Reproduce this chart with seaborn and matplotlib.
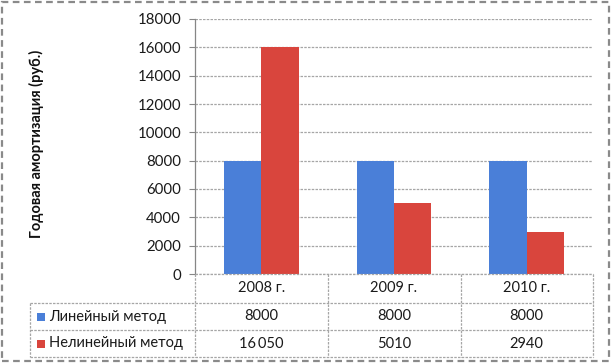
import numpy as np
import pandas as pd
import matplotlib
matplotlib.use("Agg")
import matplotlib.pyplot as plt
import matplotlib.transforms as mtransforms
from matplotlib.lines import Line2D
from matplotlib.patches import Rectangle
import seaborn as sns

# data
years = ["2008 г.", "2009 г.", "2010 г."]
linear = [8000, 8000, 8000]
nonlinear = [16050, 5010, 2940]
linear_labels = ["8000", "8000", "8000"]
nonlinear_labels = ["16\u2009050", "5010", "2940"]
methods = ["Линейный метод", "Нелинейный метод"]
yticks = list(range(0, 18001, 2000))

colors = ["#4a7fd8", "#d9453d"]
grid_col = "#a6a6a6"

df = pd.DataFrame({
    "year": years * 2,
    "value": linear + nonlinear,
    "method": [methods[0]] * 3 + [methods[1]] * 3,
})

sns.set_style("white")
plt.rcParams["font.family"] = ["Lato", "DejaVu Sans"]

W, H = 612, 364
fig = plt.figure(figsize=(W / 100, H / 100), dpi=100)


def fx(x):
    return x / W


def fy(y):
    return 1 - y / H


# plot area
L, R, T, B = 195, 593, 19, 274
ax = fig.add_axes([fx(L), fy(B), (R - L) / W, (B - T) / H])

sns.barplot(data=df, x="year", y="value", hue="method", palette=colors,
            width=0.565, saturation=1, legend=False, ax=ax, zorder=3,
            linewidth=0, edgecolor="none")

ax.set_ylim(0, 18000)
ax.set_xlim(-0.5, 2.5)
ax.set_yticks(yticks)
ax.set_yticklabels([str(t) for t in yticks], fontsize=10.8, color="#1a1a1a")
ax.set_xticks([])
ax.set_xlabel("")
ax.set_ylabel("")
ax.yaxis.grid(True, color=grid_col, linestyle=(0, (2, 1)), linewidth=0.9, zorder=0)
ax.tick_params(axis="y", length=4, color="#868686", pad=6, left=True)
for s in ["top", "right", "bottom"]:
    ax.spines[s].set_visible(False)
ax.spines["left"].set_color("#868686")
ax.spines["left"].set_linewidth(0.9)

fig.text(fx(36), fy(144), "Годовая амортизация (руб.)", rotation=90,
         ha="center", va="center", fontsize=10.5, fontweight="bold", color="#111111")

# data table below the plot
line_kw = dict(color=grid_col, linewidth=0.9, linestyle=(0, (2, 1)), transform=fig.transFigure)
rows = [274, 303, 330, 357]
cols = [195, 328, 461, 593]
fig.add_artist(Line2D([fx(195), fx(593)], [fy(274), fy(274)], **line_kw))
for y in rows[1:]:
    fig.add_artist(Line2D([fx(30), fx(593)], [fy(y), fy(y)], **line_kw))
for x in cols:
    fig.add_artist(Line2D([fx(x), fx(x)], [fy(274), fy(357)], **line_kw))
fig.add_artist(Line2D([fx(30), fx(30)], [fy(303), fy(357)], **line_kw))

tr = mtransforms.blended_transform_factory(ax.transData, fig.transFigure)
row_mid = [(rows[i] + rows[i + 1]) / 2 for i in range(3)]
for i, yr in enumerate(years):
    fig.text(i, fy(row_mid[0]), yr, transform=tr, ha="center", va="center",
             fontsize=10.5, color="#1a1a1a")
    fig.text(i, fy(row_mid[1]), linear_labels[i], transform=tr, ha="center",
             va="center", fontsize=10.5, color="#1a1a1a")
    fig.text(i, fy(row_mid[2]), nonlinear_labels[i], transform=tr, ha="center",
             va="center", fontsize=10.5, color="#1a1a1a")

for k, m in enumerate(methods):
    ym = row_mid[k + 1]
    fig.add_artist(Rectangle((fx(37), fy(ym + 4)), 8 / W, 8 / H, facecolor=colors[k],
                             edgecolor="none", transform=fig.transFigure))
    fig.text(fx(49), fy(ym), m, ha="left", va="center", fontsize=10.5, color="#1a1a1a")

# outer frame
fig.add_artist(Rectangle((fx(1.5), fy(361)), (609 - 1.5) / W, (361 - 1.5) / H,
                         fill=False, edgecolor="#8a8a8a", linewidth=1.6,
                         linestyle=(0, (3, 2)), transform=fig.transFigure))

fig.savefig("out.png", dpi=100)
